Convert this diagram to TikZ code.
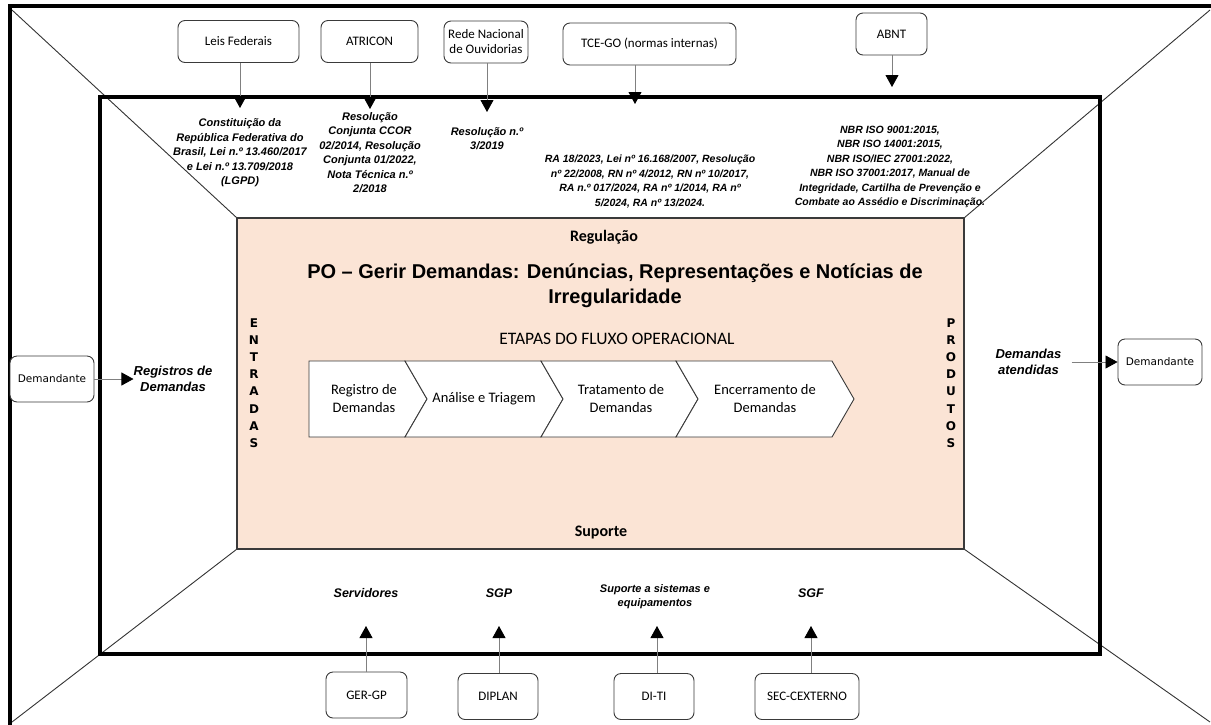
\documentclass[tikz,border=0pt]{standalone}
\usepackage{fontspec}
\setmainfont{Liberation Sans}
\newfontfamily\calib{Carlito}
\newfontfamily\dejavu{DejaVu Sans}
\usetikzlibrary{arrows.meta,positioning,calc}
\definecolor{peach}{HTML}{FBE4D5}
\definecolor{edge}{HTML}{3A3A3A}

\begin{document}
\begin{tikzpicture}[
            x=1pt, y=-1pt,
            every node/.style={inner sep=0pt},
            bigframe/.style={draw=black, line width=3.2pt},
            diag/.style={draw=black!80, line width=0.9pt},
            srcbox/.style={draw=edge, rounded corners=7pt, line width=0.9pt, fill=white, align=center,
                minimum height=42pt, font=\calib\fontsize{13}{15}\selectfont},
            reftxt/.style={align=center, font=\bfseries\itshape\fontsize{11}{14.5}\selectfont},
            sidetxt/.style={align=center, font=\bfseries\itshape\fontsize{13}{15.5}\selectfont},
            stagebox/.style={draw=edge, line width=0.9pt, fill=white},
            stagetxt/.style={align=center, font=\calib\fontsize{14.5}{18}\selectfont},
            vertxt/.style={align=center, font=\dejavu\bfseries\fontsize{12}{17.2}\selectfont},
            feed/.style={draw=gray, line width=0.8pt, -{Triangle[width=13pt,length=12pt,color=black]}}
        ]
        \useasboundingbox (0,0) rectangle (1211,724);

        % Draw frames %
        \fill[peach] (237,218) rectangle (964,549);
        \draw[diag] (12,10) -- (237,218);
        \draw[diag] (1210,10) -- (964,218);
        \draw[diag] (12,722) -- (237,549);
        \draw[diag] (1210,722) -- (964,549);
        \draw[bigframe] (10,6) rectangle (1214,740);
        \draw[bigframe] (100,97) rectangle (1100,654);
        \draw[edge, line width=1.5pt] (237,218) rectangle (964,549);

        % Draw regulation sources %
        \node[srcbox, minimum width=121pt] (leis) at (238.5,41.5) {Leis Federais};
        \node[srcbox, minimum width=97pt] (atricon) at (369.5,41.5) {ATRICON};
        \node[srcbox, minimum width=84pt] (rede) at (486,42) {Rede Nacional\\de Ouvidorias};
        \node[srcbox, minimum width=173pt] (tce) at (649.5,44) {TCE-GO (normas internas)};
        \node[srcbox, minimum width=71pt] (abnt) at (891.5,34) {ABNT};

        % Draw regulation texts %
        \node[reftxt] (leisT) at (240,153) {Constituição da\\República Federativa do\\Brasil, Lei n.º 13.460/2017\\e Lei n.º 13.709/2018\\(LGPD)};
        \node[reftxt] (atriconT) at (370,152.5) {Resolução\\Conjunta CCOR\\02/2014, Resolução\\Conjunta 01/2022,\\Nota Técnica n.º\\2/2018};
        \node[reftxt] (redeT) at (487,138.5) {Resolução n.º\\3/2019};
        \node[reftxt, font=\bfseries\itshape\fontsize{10.5}{14.5}\selectfont] (tceT) at (650,181.5)
            {RA 18/2023, Lei nº 16.168/2007, Resolução\\nº 22/2008, RN nº 4/2012, RN nº 10/2017,\\RA n.º 017/2024, RA nº 1/2014, RA nº\\5/2024, RA nº 13/2024.};
        \node[reftxt, font=\bfseries\itshape\fontsize{10.5}{14.5}\selectfont] (abntT) at (890,167)
            {NBR ISO 9001:2015,\\NBR ISO 14001:2015,\\NBR ISO/IEC 27001:2022,\\NBR ISO 37001:2017, Manual de\\Integridade, Cartilha de Prevenção e\\Combate ao Assédio e Discriminação.};

        % Draw regulation arrows %
        \coordinate (leisE) at (240,108);
        \coordinate (atriconE) at (370,109);
        \coordinate (redeE) at (487,112);
        \coordinate (tceE) at (635,104);
        \coordinate (abntE) at (892,87);
        \foreach \src in {leis,atricon,rede,tce,abnt}
            \draw[feed] (\src.south -| \src E) -- (\src E);

        % Draw inputs and outputs %
        \node[srcbox, minimum width=84pt, minimum height=46pt, font=\dejavu\fontsize{10.5}{13}\selectfont] (demL) at (52,379) {Demandante};
        \node[sidetxt, right=39pt of demL] (regT) {Registros de\\Demandas};
        \node[srcbox, minimum width=84pt, minimum height=46pt, font=\dejavu\fontsize{10.5}{13}\selectfont] (demR) at (1160,362) {Demandante};
        \node[sidetxt, left=56pt of demR] (atendT) {Demandas\\atendidas};
        \draw[feed] (demL) -- (regT);
        \draw[feed, shorten <=10pt] (atendT) -- (demR);

        % Draw process %
        \node[font=\calib\bfseries\fontsize{16}{18}\selectfont] (reg) at (604,237) {Regulação};
        \node[align=center, font=\bfseries\fontsize{20}{25}\selectfont] (title) at (615,285.5)
            {PO – Gerir Demandas: Denúncias, Representações e Notícias de\\Irregularidade};
        \node[font=\calib\fontsize{17.5}{20}\selectfont] (etapas) at (617,339) {ETAPAS DO FLUXO OPERACIONAL};
        \node[vertxt] (entradas) at (254,383) {E\\N\\T\\R\\A\\D\\A\\S};
        \node[vertxt] (produtos) at (951,383) {P\\R\\O\\D\\U\\T\\O\\S};
        \node[font=\calib\bfseries\fontsize{16}{18}\selectfont] (sup) at (601,533) {Suporte};

        % Draw stages %
        \foreach \xa/\xb/\first in {309/405/1, 405/541/0, 541/676/0, 676/832/0} {
            \ifnum\first=1
                \draw[stagebox] (\xa,361) -- (\xb,361) -- (\xb+22,399) -- (\xb,437) -- (\xa,437) -- cycle;
            \else
                \draw[stagebox] (\xa,361) -- (\xb,361) -- (\xb+22,399) -- (\xb,437) -- (\xa,437) -- (\xa+22,399) -- cycle;
            \fi
        }
        \node[stagetxt] (st1) at (364,399) {Registro de\\Demandas};
        \node[stagetxt] (st2) at (484,399) {Análise e Triagem};
        \node[stagetxt] (st3) at (621,399) {Tratamento de\\Demandas};
        \node[stagetxt] (st4) at (765,399) {Encerramento de\\Demandas};

        % Draw support %
        \node[srcbox, minimum width=81pt, minimum height=46pt] (gergp) at (366.5,695) {GER-GP};
        \node[srcbox, minimum width=80pt, minimum height=46pt] (diplan) at (498,696.5) {DIPLAN};
        \node[srcbox, minimum width=80pt, minimum height=46pt] (diti) at (654,696.5) {DI-TI};
        \node[srcbox, minimum width=104pt, minimum height=46pt] (sec) at (807,696.5) {SEC-CEXTERNO};
        \node[sidetxt, font=\bfseries\itshape\fontsize{12.5}{15}\selectfont] (servT) at (366,593) {Servidores};
        \node[sidetxt, font=\bfseries\itshape\fontsize{12.5}{15}\selectfont] (sgpT) at (499,593) {SGP};
        \node[reftxt, font=\bfseries\itshape\fontsize{11}{14.5}\selectfont] (ditiT) at (655,596.5) {Suporte a sistemas e\\equipamentos};
        \node[sidetxt, font=\bfseries\itshape\fontsize{12.5}{15}\selectfont] (sgfT) at (811,593) {SGF};
        \coordinate (gergpE) at (366,626);
        \coordinate (diplanE) at (499,626);
        \coordinate (ditiE) at (657,626);
        \coordinate (secE) at (811,626);
        \foreach \src in {gergp,diplan,diti,sec}
            \draw[feed] (\src.north -| \src E) -- (\src E);
\end{tikzpicture}
\end{document}
